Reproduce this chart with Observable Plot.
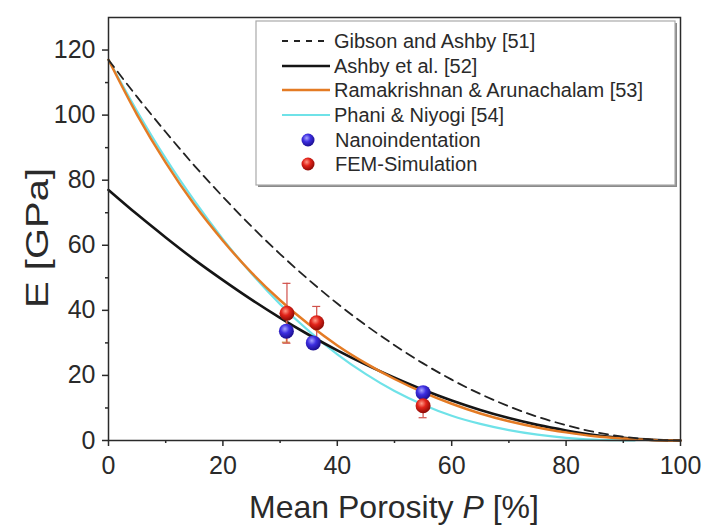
<!DOCTYPE html>
<html>
<head>
<meta charset="utf-8">
<script src="https://cdn.jsdelivr.net/npm/d3@7"></script>
<script src="https://cdn.jsdelivr.net/npm/@observablehq/plot@0.6"></script>
<style>
  html, body { margin: 0; padding: 0; background: #fff; }
  #chart { width: 704px; height: 528px; overflow: hidden; }
  svg { font-family: "Liberation Sans", Arial, sans-serif; }
</style>
</head>
<body>
<div id="chart"></div>
<script>
// ---- data ----
const porosity = [0, 5, 10, 15, 20, 25, 30, 35, 40, 45, 50, 55, 60, 65, 70, 75, 80, 85, 90, 95, 100];
const gibsonAshby = [117, 105.6, 94.8, 84.5, 74.9, 65.8, 57.3, 49.4, 42.1, 35.4, 29.3, 23.7, 18.7, 14.3, 10.5, 7.3, 4.7, 2.6, 1.2, 0.3, 0];
const ashbyEtAl   = [77, 69.5, 62.4, 55.6, 49.3, 43.3, 37.7, 32.5, 27.7, 23.3, 19.3, 15.6, 12.3, 9.4, 6.9, 4.8, 3.1, 1.7, 0.8, 0.2, 0];
const ramakrishnan = [117, 100.1, 85.4, 72.5, 61.4, 51.6, 43.1, 35.7, 29.2, 23.7, 18.9, 14.8, 11.3, 8.3, 5.9, 4.0, 2.5, 1.3, 0.6, 0.15, 0];
const phaniPorosity = [0, 5, 10, 15, 20, 25, 30, 35, 40, 45, 50, 55, 60, 65, 70, 75, 80, 85, 90, 92];
const phaniNiyogi  = [117, 101.2, 86.7, 73.7, 61.9, 51.3, 41.9, 33.7, 26.5, 20.4, 15.2, 11.0, 7.6, 5.1, 3.2, 1.8, 0.8, 0.25, 0.05, 0];

const nanoP = [31.1, 35.8, 55];
const nanoE = [33.6, 30.0, 14.7];
const nanoErr = [3.4, 1.0, 1.0];
const femP = [31.2, 36.4, 55];
const femE = [39.1, 36.2, 10.7];
const femErr = [9.2, 5.0, 3.7];

const xTicks = [0, 20, 40, 60, 80, 100];
const xMinor = [10, 30, 50, 70, 90];
const yTicks = [0, 20, 40, 60, 80, 100, 120];
const yMinor = [10, 30, 50, 70, 90, 110];

const legendLabels = ["Gibson and Ashby [51]", "Ashby et al. [52]", "Ramakrishnan & Arunachalam [53]", "Phani & Niyogi [54]", "Nanoindentation", "FEM-Simulation"];

// ---- tables ----
const toRows = (xs, ys) => xs.map((p, i) => ({P: p, E: ys[i]}));
const gibRows = toRows(porosity, gibsonAshby);
const ashRows = toRows(porosity, ashbyEtAl);
const ramRows = toRows(porosity, ramakrishnan);
const phaRows = toRows(phaniPorosity, phaniNiyogi);
const nanoRows = nanoP.map((p, i) => ({P: p, E: nanoE[i], lo: nanoE[i] - nanoErr[i], hi: nanoE[i] + nanoErr[i]}));
const femRows = femP.map((p, i) => ({P: p, E: femE[i], lo: femE[i] - femErr[i], hi: femE[i] + femErr[i]}));

const axisColor = "#2a2a2a";

const plot = Plot.plot({
  width: 704,
  height: 528,
  marginLeft: 108,
  marginRight: 24,
  marginTop: 17,
  marginBottom: 88,
  x: {domain: [0, 100]},
  y: {domain: [0, 130]},
  style: {fontFamily: "'Liberation Sans', Arial, sans-serif", color: axisColor, background: "white"},
  marks: [
    Plot.line(phaRows, {x: "P", y: "E", stroke: "#6fe2e8", strokeWidth: 2.2, curve: "monotone-x"}),
    Plot.line(ashRows, {x: "P", y: "E", stroke: "#151515", strokeWidth: 2.6, curve: "monotone-x"}),
    Plot.line(ramRows, {x: "P", y: "E", stroke: "#e47b24", strokeWidth: 2.5, curve: "monotone-x"}),
    Plot.line(gibRows, {x: "P", y: "E", stroke: "#222", strokeWidth: 1.8, strokeDasharray: "9,6", curve: "monotone-x"}),
    Plot.ruleX(nanoRows, {x: "P", y1: "lo", y2: "hi", stroke: "#d08a3a", strokeWidth: 1.2}),
    Plot.ruleY(nanoRows, {y: "lo", x1: d => d.P - 0.7, x2: d => d.P + 0.7, stroke: "#d08a3a", strokeWidth: 1.2}),
    Plot.ruleX(femRows, {x: "P", y1: "lo", y2: "hi", stroke: "#d0504a", strokeWidth: 1.2}),
    Plot.ruleY(femRows, {y: "hi", x1: d => d.P - 0.7, x2: d => d.P + 0.7, stroke: "#d0504a", strokeWidth: 1.2}),
    Plot.ruleY(femRows, {y: "lo", x1: d => d.P - 0.7, x2: d => d.P + 0.7, stroke: "#d0504a", strokeWidth: 1.2}),
    Plot.dot(nanoRows, {x: "P", y: "E", r: 7.5, fill: "url(#gblue)", stroke: "none"}),
    Plot.dot(femRows, {x: "P", y: "E", r: 7.5, fill: "url(#gred)", stroke: "none"}),
    Plot.frame({stroke: axisColor, strokeWidth: 1.5}),
    Plot.axisX({ticks: xTicks, tickSize: 6, tickPadding: 10, fontSize: 25, label: null, stroke: axisColor, strokeWidth: 1.5}),
    Plot.axisX({ticks: xMinor, tickSize: 3, tickFormat: () => "", label: null, stroke: axisColor, strokeWidth: 1.5}),
    Plot.axisY({ticks: yTicks, tickSize: 6, tickPadding: 7, fontSize: 25, label: null, stroke: axisColor, strokeWidth: 1.5}),
    Plot.axisY({ticks: yMinor, tickSize: 3, tickFormat: () => "", label: null, stroke: axisColor, strokeWidth: 1.5})
  ]
});

document.getElementById("chart").appendChild(plot);

const svg = d3.select(plot);

// gradients for shaded balls
const defs = svg.insert("defs", ":first-child");
function ball(id, c0, c1, c2) {
  const g = defs.append("radialGradient").attr("id", id).attr("cx", "40%").attr("cy", "35%").attr("r", "65%");
  g.append("stop").attr("offset", "0%").attr("stop-color", c0);
  g.append("stop").attr("offset", "45%").attr("stop-color", c1);
  g.append("stop").attr("offset", "100%").attr("stop-color", c2);
}
ball("gblue", "#a9a4ff", "#3d2ee0", "#1c0f90");
ball("gred", "#ff9a88", "#e2231a", "#8c0b06");

// axis titles
svg.append("text")
  .attr("x", 394).attr("y", 518)
  .attr("text-anchor", "middle")
  .attr("font-size", 32)
  .attr("fill", axisColor)
  .call(t => {
    t.append("tspan").text("Mean Porosity ");
    t.append("tspan").attr("font-style", "italic").text("P");
    t.append("tspan").text(" [%]");
  });

svg.append("text")
  .attr("transform", "translate(48,238) rotate(-90)")
  .attr("text-anchor", "middle")
  .attr("font-size", 31)
  .attr("textLength", 140)
  .attr("lengthAdjust", "spacingAndGlyphs")
  .attr("fill", axisColor)
  .text("E [GPa]");

// legend
const lg = svg.append("g").attr("text-anchor", "start");
lg.append("rect").attr("x", 258).attr("y", 23).attr("width", 419).attr("height", 164).attr("fill", "#8a8a8a");
lg.append("rect").attr("x", 256).attr("y", 21).attr("width", 419).attr("height", 164)
  .attr("fill", "white").attr("stroke", "#aaa").attr("stroke-width", 1.2);
const rowsY = [41, 66, 90, 115, 140, 164];
const lineStyles = [
  {stroke: "#222", width: 1.8, dash: "6,6"},
  {stroke: "#151515", width: 2.6, dash: null},
  {stroke: "#e47b24", width: 2.5, dash: null},
  {stroke: "#6fe2e8", width: 2.2, dash: null}
];
lineStyles.forEach((s, i) => {
  lg.append("line").attr("x1", 282).attr("x2", 330).attr("y1", rowsY[i]).attr("y2", rowsY[i])
    .attr("stroke", s.stroke).attr("stroke-width", s.width).attr("stroke-dasharray", s.dash);
});
lg.append("circle").attr("cx", 308).attr("cy", rowsY[4]).attr("r", 6.5).attr("fill", "url(#gblue)");
lg.append("circle").attr("cx", 308).attr("cy", rowsY[5]).attr("r", 6.5).attr("fill", "url(#gred)");
legendLabels.forEach((lab, i) => {
  lg.append("text").attr("x", i < 4 ? 334 : 335).attr("y", rowsY[i]).attr("dy", "0.36em")
    .attr("text-anchor", "start")
    .attr("font-size", 20).attr("fill", axisColor).text(lab);
});
</script>
</body>
</html>
